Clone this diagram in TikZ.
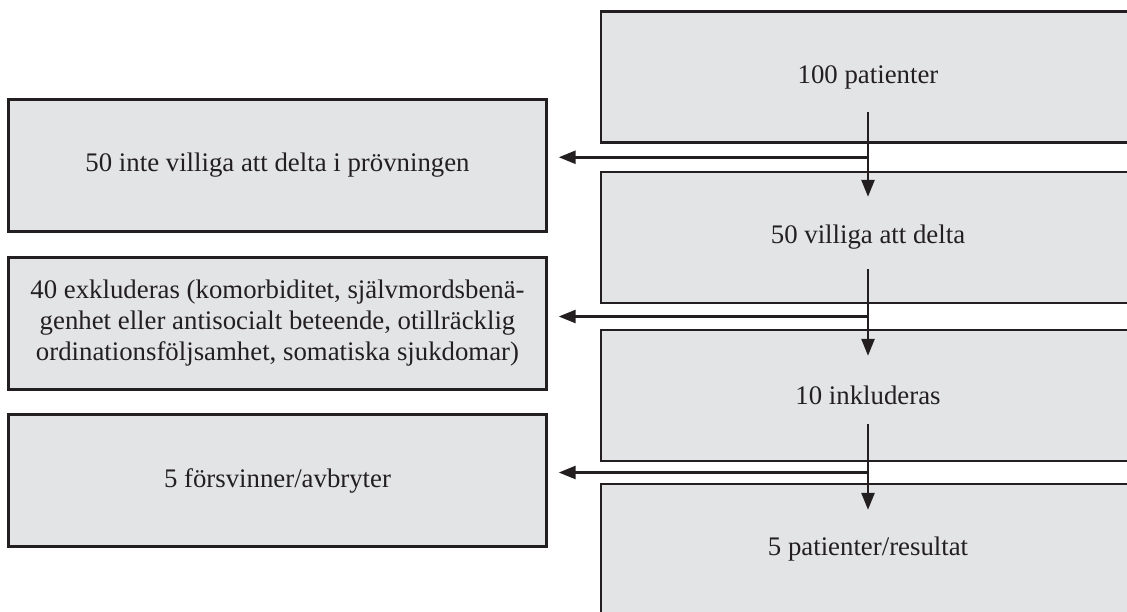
\documentclass[tikz,border=0pt]{standalone}
\usepackage{fontspec}
\setmainfont{Liberation Serif}
\usetikzlibrary{arrows.meta,calc}
\definecolor{boxgray}{RGB}{227,228,230}
\definecolor{inkdark}{RGB}{35,31,32}
\tikzset{
	flowbox/.style={draw=inkdark, line width=1.2pt, fill=boxgray, text=inkdark, align=center,
		font=\fontsize{13.4}{15.5}\selectfont, inner sep=0pt},
	rightbox/.style={flowbox, minimum width=267pt, minimum height=65.5pt},
	leftbox/.style={flowbox, minimum width=269pt, minimum height=66pt},
	flowarrow/.style={-{Triangle[length=8.5pt,width=6.5pt]}, draw=inkdark, line width=1.3pt}
}
\begin{document}
\begin{tikzpicture}[x=0.5pt, y=-0.5pt]
		\useasboundingbox (0,0) rectangle (1127,611);
		\clip (0,0) rectangle (1127,611);
		
		% right column
		\node [rightbox] (pat100) at (868,77) {100 patienter};
		\node [rightbox] (will50) at (868,237.5) {50 villiga att delta};
		\node [rightbox] (incl10) at (868,395.5) {10 inkluderas};
		\node [rightbox] (result5) at (868,549.5) {5 patienter/resultat};
		
		% left column
		\node [leftbox] (notwill50) at (277.5,165.4) {50 inte villiga att delta i prövningen};
		\node [leftbox] (excl40) at (277.5,323.3) {40 exkluderas (komorbiditet, självmordsbenä-\\genhet eller antisocialt beteende, otillräcklig\\ordinationsföljsamhet, somatiska sjukdomar)};
		\node [leftbox] (drop5) at (277.5,480.5) {5 försvinner/avbryter};
		
		\coordinate (gap1) at ($(pat100.south)!.5!(will50.north)$);
		\coordinate (gap2) at ($(will50.south)!.5!(incl10.north)$);
		\coordinate (gap3) at ($(incl10.south)!.5!(result5.north)$);
		
		\draw [flowarrow] ([yshift=16pt]pat100.south) -- ([yshift=-13pt]will50.north);
		\draw [flowarrow] ([yshift=17.5pt]will50.south) -- ([yshift=-13.5pt]incl10.north);
		\draw [flowarrow] ([yshift=19pt]incl10.south) -- ([yshift=-13.5pt]result5.north);
		
		\draw [flowarrow] (gap1) -- ([xshift=5.5pt]gap1 -| notwill50.east);
		\draw [flowarrow] (gap2) -- ([xshift=5.5pt]gap2 -| excl40.east);
		\draw [flowarrow] (gap3) -- ([xshift=5.5pt]gap3 -| drop5.east);
		
		\end{tikzpicture}
\end{document}
